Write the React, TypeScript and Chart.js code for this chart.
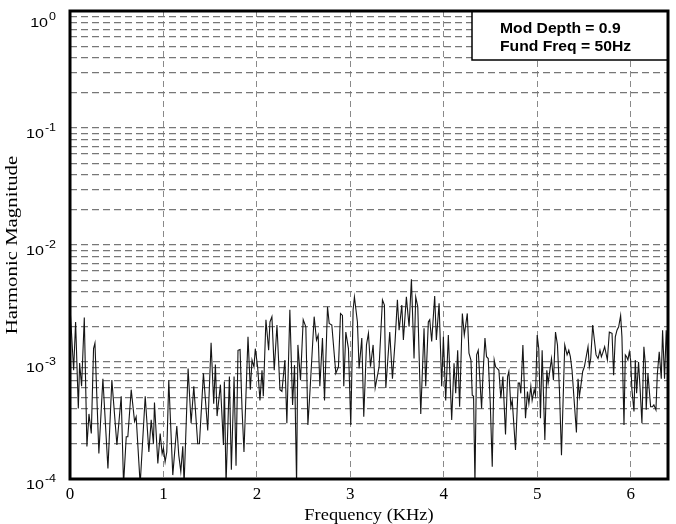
import React, { useEffect, useRef } from "react";
import { Chart, registerables } from "chart.js";

Chart.register(...registerables);

const freqKHz = [
  0.000, 0.039, 0.060, 0.089, 0.103, 0.124, 0.153, 0.181, 0.203, 0.228, 0.252, 0.267, 0.309, 0.352, 0.406, 0.448,
  0.502, 0.548, 0.573, 0.602, 0.619, 0.655, 0.691, 0.708, 0.751, 0.805, 0.844, 0.869, 0.893, 0.904, 0.940, 0.965,
  0.986, 1.000, 1.018, 1.036, 1.057, 1.100, 1.143, 1.164, 1.186, 1.207, 1.221, 1.264, 1.296, 1.325, 1.367, 1.385,
  1.428, 1.474, 1.510, 1.538, 1.556, 1.574, 1.610, 1.642, 1.652, 1.670, 1.706, 1.727, 1.756, 1.777, 1.798, 1.820,
  1.841, 1.862, 1.905, 1.930, 1.948, 1.969, 1.983, 2.008, 2.033, 2.055, 2.069, 2.097, 2.126, 2.140, 2.161, 2.186,
  2.215, 2.247, 2.268, 2.300, 2.321, 2.353, 2.382, 2.403, 2.425, 2.439, 2.467, 2.496, 2.524, 2.546, 2.567, 2.613,
  2.638, 2.656, 2.674, 2.702, 2.724, 2.756, 2.774, 2.802, 2.845, 2.873, 2.895, 2.916, 2.930, 2.952, 2.980, 3.005,
  3.030, 3.044, 3.076, 3.094, 3.123, 3.144, 3.173, 3.194, 3.216, 3.244, 3.266, 3.308, 3.344, 3.365, 3.380, 3.422,
  3.451, 3.479, 3.504, 3.522, 3.551, 3.568, 3.600, 3.629, 3.654, 3.682, 3.700, 3.722, 3.754, 3.789, 3.807, 3.835,
  3.850, 3.871, 3.903, 3.921, 3.950, 3.978, 3.996, 4.021, 4.049, 4.085, 4.110, 4.128, 4.149, 4.170, 4.199, 4.220,
  4.252, 4.270, 4.291, 4.305, 4.319, 4.334, 4.352, 4.369, 4.387, 4.405, 4.419, 4.441, 4.458, 4.476, 4.498, 4.519,
  4.540, 4.555, 4.572, 4.590, 4.611, 4.633, 4.661, 4.683, 4.697, 4.718, 4.733, 4.768, 4.797, 4.811, 4.825, 4.847,
  4.875, 4.896, 4.911, 4.932, 4.946, 4.968, 4.982, 5.000, 5.017, 5.035, 5.053, 5.082, 5.103, 5.117, 5.153, 5.174,
  5.196, 5.217, 5.238, 5.260, 5.295, 5.320, 5.338, 5.355, 5.373, 5.398, 5.420, 5.437, 5.452, 5.469, 5.487, 5.505,
  5.544, 5.558, 5.573, 5.594, 5.630, 5.651, 5.672, 5.687, 5.701, 5.722, 5.751, 5.772, 5.801, 5.818, 5.836, 5.854,
  5.872, 5.893, 5.907, 5.929, 5.943, 5.957, 5.971, 5.986, 6.000, 6.014, 6.036, 6.050, 6.064, 6.085, 6.100, 6.121,
  6.142, 6.157, 6.167, 6.185, 6.214, 6.235, 6.249, 6.271, 6.285, 6.306, 6.328, 6.342, 6.363, 6.381, 6.399,
];

const magnitude = [
  2.97e-3, 8.5e-4, 2.2e-3, 4.0e-4, 9.8e-4, 6.2e-4, 2.4e-3, 1.9e-4, 3.6e-4, 2.45e-4, 1.3e-3, 1.45e-3, 1.65e-4, 7.2e-4, 1.23e-4, 7.0e-4,
  1.95e-4, 5.1e-4, 9e-5, 2.3e-4, 2.3e-4, 5.8e-4, 3.1e-4, 3.4e-4, 9e-5, 5.1e-4, 1.7e-4, 3.2e-4, 2.0e-4, 4.5e-4, 1.36e-4, 2.45e-4,
  1.65e-4, 1.83e-4, 1.4e-4, 1.7e-4, 7.0e-4, 1.08e-4, 2.84e-4, 1.6e-4, 1.16e-4, 1.9e-4, 9e-5, 8.8e-4, 3.0e-4, 6.2e-4, 2.0e-4, 2.0e-4,
  8.0e-4, 2.6e-4, 1.46e-3, 4.4e-4, 9.5e-4, 3.45e-4, 6.4e-4, 1.95e-4, 6.8e-4, 9e-5, 7.5e-4, 1.2e-4, 7.5e-4, 1.3e-4, 1.26e-3, 1.28e-3,
  4.0e-4, 1.7e-4, 1.64e-3, 5.8e-4, 1.04e-3, 9.1e-4, 1.3e-3, 9.1e-4, 4.7e-4, 8.5e-4, 5.1e-4, 2.3e-3, 1.26e-3, 2.2e-3, 2.44e-3, 8.5e-4,
  2.07e-3, 5.8e-4, 5.6e-4, 1.04e-3, 3.0e-4, 2.8e-3, 4.3e-4, 9.4e-4, 9e-5, 1.4e-3, 7.0e-4, 2.3e-3, 2.0e-3, 2.9e-4, 5.4e-4, 2.44e-3,
  1.54e-3, 1.7e-3, 6.2e-4, 1.6e-3, 4.7e-4, 2.97e-3, 2.14e-3, 2.07e-3, 8.0e-4, 9.1e-4, 2.6e-3, 2.5e-3, 6.2e-4, 1.8e-3, 1.3e-3, 2.9e-4,
  2.8e-3, 3.6e-3, 2.2e-3, 8.8e-4, 1.6e-3, 3.4e-4, 1.4e-3, 1.76e-3, 9.1e-4, 1.4e-3, 6.0e-4, 9.1e-4, 3.4e-3, 3.07e-3, 6.0e-4, 1.8e-3,
  7.2e-4, 1.5e-3, 3.4e-3, 1.87e-3, 3.07e-3, 1.54e-3, 3.6e-3, 2.0e-3, 5.1e-3, 1.07e-3, 3.6e-3, 2.97e-3, 3.6e-4, 1.94e-3, 6.2e-4, 2.2e-3,
  2.3e-3, 1.5e-3, 3.66e-3, 1.54e-3, 3.17e-3, 6.2e-4, 1.64e-3, 4.7e-4, 1.7e-3, 3.2e-4, 9.75e-4, 5.4e-4, 1.26e-3, 4.15e-4, 2.6e-3, 1.7e-3,
  2.6e-3, 1.19e-3, 1.04e-3, 5.2e-4, 5.1e-4, 9e-5, 1.15e-3, 1.26e-3, 7.0e-4, 4.0e-4, 7.5e-4, 1.6e-3, 1.11e-3, 1.07e-3, 4.4e-4, 1.27e-4,
  1.04e-3, 9.1e-4, 8.8e-4, 8.5e-4, 4.9e-4, 7.5e-4, 2.4e-4, 7.5e-4, 8.3e-4, 4.15e-4, 4.7e-4, 1.77e-4, 6.6e-4, 6.6e-4, 5.4e-4, 1.4e-3,
  3.3e-4, 5.6e-4, 4.4e-4, 6.2e-4, 4.7e-4, 5.8e-4, 5.2e-4, 1.7e-3, 1.3e-3, 3.3e-4, 1.26e-3, 2.15e-4, 8.5e-4, 6.6e-4, 1.07e-3, 7.0e-4,
  1.8e-3, 1.4e-3, 5.8e-4, 1.6e-4, 1.4e-3, 1.15e-3, 1.26e-3, 1.11e-3, 8.5e-4, 4.4e-4, 2.5e-4, 7.2e-4, 5.1e-4, 6.4e-4, 8.3e-4, 9.1e-4,
  1.35e-3, 9.1e-4, 1.07e-3, 2.07e-3, 1.15e-3, 1.07e-3, 1.26e-3, 1.11e-3, 1.19e-3, 1.35e-3, 1.04e-3, 1.8e-3, 1.76e-3, 7.7e-4, 1.64e-3, 1.87e-3,
  2.0e-3, 2.5e-3, 1.64e-3, 2.9e-4, 1.15e-3, 1.11e-3, 1.04e-3, 1.22e-3, 1.04e-3, 5.8e-4, 3.77e-4, 1.04e-3, 5.4e-4, 1.0e-3, 6.2e-4, 3.0e-4,
  1.35e-3, 9.75e-4, 3.9e-4, 8.0e-4, 4.15e-4, 4.15e-4, 4.3e-4, 3.9e-4, 7.7e-4, 1.22e-3, 7.2e-4, 1.87e-3, 7.2e-4, 1.87e-3, 9.1e-4,
];

const xTickLabels = [0, 1, 2, 3, 4, 5, 6];
const yTickExponents = [-4, -3, -2, -1, 0];
const yMinorMultipliers = [1, 2, 3, 4, 5, 6, 7, 8, 9];
const legendLines = ["Mod Depth = 0.9", "Fund Freq = 50Hz"];
const xTitle = "Frequency (KHz)";
const yTitle = "Harmonic Magnitude";

const SANS = '"Liberation Sans", Arial, sans-serif';
const SERIF = '"Liberation Serif", "Times New Roman", serif';

function stretchedText(
  ctx: CanvasRenderingContext2D,
  text: string,
  x: number,
  y: number,
  sx: number,
  align: CanvasTextAlign
) {
  ctx.save();
  ctx.translate(x, y);
  ctx.scale(sx, 1);
  ctx.textAlign = align;
  ctx.fillText(text, 0, 0);
  ctx.restore();
}

const decorPlugin = {
  id: "decor",
  afterDraw(chart: any) {
    const ctx: CanvasRenderingContext2D = chart.ctx;
    const { left, right, top, bottom } = chart.chartArea;
    const xs = chart.scales.x;
    const ys = chart.scales.y;
    ctx.save();

    // legend box
    const bx = 472;
    const by = top;
    const bh = 49;
    ctx.fillStyle = "#fff";
    ctx.fillRect(bx, by, right - bx, bh);
    ctx.strokeStyle = "#000";
    ctx.lineWidth = 1.5;
    ctx.strokeRect(bx, by, right - bx, bh);
    ctx.fillStyle = "#000";
    ctx.font = `bold 14px ${SANS}`;
    ctx.textBaseline = "alphabetic";
    stretchedText(ctx, legendLines[0], 500, 33, 1.12, "left");
    stretchedText(ctx, legendLines[1], 500, 51, 1.12, "left");

    // frame
    ctx.lineWidth = 3;
    ctx.strokeStyle = "#000";
    ctx.strokeRect(left, top, right - left, bottom - top);

    // y tick labels 10^n
    ctx.fillStyle = "#000";
    ctx.textBaseline = "alphabetic";
    for (const e of yTickExponents) {
      const py = ys.getPixelForValue(Math.pow(10, e));
      const base = Math.max(py + 10, 27);
      const expStr = e < 0 ? "-" + Math.abs(e) : String(e);
      ctx.font = `10.5px ${SANS}`;
      const ew = ctx.measureText(expStr).width * 1.19;
      const xr = 56;
      stretchedText(ctx, expStr, xr, base - 7, 1.19, "right");
      ctx.font = `13.5px ${SANS}`;
      stretchedText(ctx, "10", xr - ew - 1, base, 1.19, "right");
    }

    // x tick labels
    ctx.font = `17px ${SERIF}`;
    ctx.textBaseline = "alphabetic";
    for (const v of xTickLabels) {
      const px = xs.getPixelForValue(v);
      stretchedText(ctx, String(v), px, 499, 1.0, "center");
    }

    // x title
    ctx.font = `16px ${SERIF}`;
    stretchedText(ctx, xTitle, (left + right) / 2, 520, 1.15, "center");

    // y title
    ctx.save();
    ctx.translate(17, (top + bottom) / 2);
    ctx.rotate(-Math.PI / 2);
    ctx.font = `16px ${SERIF}`;
    ctx.textAlign = "center";
    ctx.scale(1.3, 1);
    ctx.fillText(yTitle, 0, 0);
    ctx.restore();

    ctx.restore();
  },
};

export default function App() {
  const ref = useRef<HTMLCanvasElement>(null);

  useEffect(() => {
    if (!ref.current) return;
    const points = freqKHz.map((x, i) => ({ x, y: magnitude[i] }));
    const gridValues: number[] = [];
    for (const e of yTickExponents) {
      for (const m of yMinorMultipliers) {
        const v = m * Math.pow(10, e);
        if (v <= 1.0000001) gridValues.push(v);
      }
    }
    const chart = new Chart(ref.current, {
      type: "line",
      data: {
        datasets: [
          {
            data: points,
            borderColor: "#151515",
            borderWidth: 1.1,
            pointRadius: 0,
            tension: 0,
            fill: false,
          },
        ],
      },
      options: {
        animation: false,
        responsive: false,
        devicePixelRatio: 1,
        layout: { padding: { left: 0, right: 8, top: 11, bottom: 0 } },
        plugins: {
          legend: { display: false },
          tooltip: { enabled: false },
          title: { display: false },
        },
        scales: {
          x: {
            type: "linear",
            min: 0,
            max: 6.4,
            afterBuildTicks: (scale: any) => {
              scale.ticks = xTickLabels.map((v) => ({ value: v }));
            },
            afterFit: (scale: any) => {
              scale.height = 45;
            },
            ticks: { display: false },
            border: { display: false, dash: [6, 4] },
            grid: {
              color: "#8a8a8a",
              lineWidth: 1,
              drawTicks: false,
            },
            title: { display: false },
          },
          y: {
            type: "logarithmic",
            min: 1e-4,
            max: 1,
            afterBuildTicks: (scale: any) => {
              scale.ticks = gridValues.map((v) => ({ value: v }));
            },
            afterFit: (scale: any) => {
              scale.width = 70;
            },
            ticks: { display: false },
            border: { display: false, dash: [7, 4] },
            grid: {
              color: "#777",
              lineWidth: 1.2,
              drawTicks: false,
            },
            title: { display: false },
          },
        },
      } as any,
      plugins: [decorPlugin],
    });
    return () => chart.destroy();
  }, []);

  return (
    <div style={{ position: "fixed", left: 0, top: 0, width: 676, height: 524, background: "#fff" }}>
      <canvas ref={ref} width={676} height={524} style={{ display: "block", width: 676, height: 524 }} />
    </div>
  );
}
